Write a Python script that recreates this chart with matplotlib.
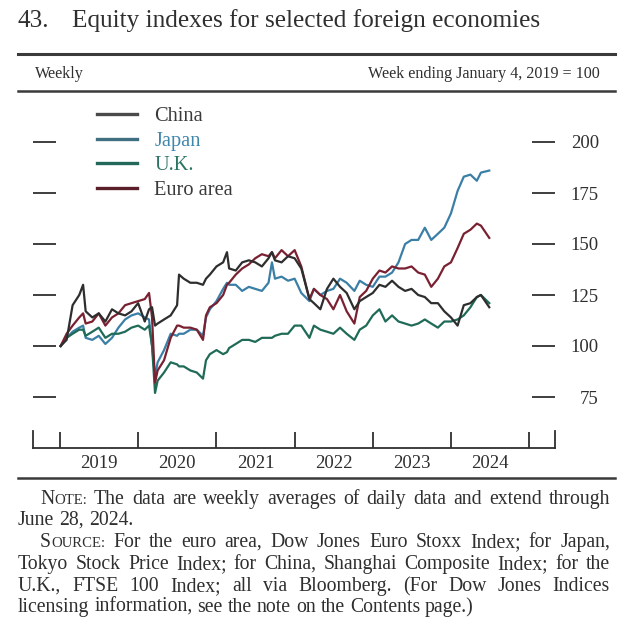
import matplotlib
matplotlib.use("Agg")
import matplotlib.pyplot as plt
from matplotlib.lines import Line2D
import pandas as pd

plt.rcParams['font.family'] = ['Liberation Serif', 'DejaVu Serif']

# ---------------- data ----------------
dates = [
    "2019-01-04", "2019-02-01", "2019-03-01", "2019-04-01", "2019-04-19", "2019-05-01",
    "2019-06-01", "2019-07-01", "2019-08-01", "2019-09-01", "2019-10-01", "2019-11-01",
    "2019-12-01", "2020-01-01", "2020-02-01", "2020-02-21", "2020-03-06", "2020-03-20",
    "2020-04-01", "2020-05-01", "2020-06-01", "2020-07-01", "2020-07-10", "2020-08-01",
    "2020-09-01", "2020-10-01", "2020-10-30", "2020-11-13", "2020-12-01", "2021-01-01",
    "2021-02-01", "2021-02-19", "2021-03-01", "2021-04-01", "2021-05-01", "2021-06-01",
    "2021-07-01", "2021-08-01", "2021-09-01", "2021-09-17", "2021-10-01", "2021-11-01",
    "2021-12-01", "2022-01-01", "2022-02-01", "2022-03-11", "2022-04-01", "2022-05-01",
    "2022-06-01", "2022-07-01", "2022-08-01", "2022-09-01", "2022-10-07", "2022-11-01",
    "2022-12-01", "2023-01-01", "2023-02-01", "2023-03-01", "2023-04-01", "2023-05-01",
    "2023-06-01", "2023-07-01", "2023-08-01", "2023-09-01", "2023-10-01", "2023-11-01",
    "2023-12-01", "2024-01-01", "2024-02-01", "2024-03-01", "2024-04-01", "2024-05-01",
    "2024-05-20", "2024-06-28",
]
china = [
    100, 103, 120, 125, 130, 117, 114, 116, 112, 118, 116, 115,
    117, 121, 112, 118, 119, 110, 111, 113, 115, 120, 135, 133,
    131, 131, 130, 133, 135, 139, 141, 146, 138, 137, 141, 142,
    141, 139, 143, 146, 142, 141, 144, 143, 138, 123, 121, 118,
    128, 133, 129, 126, 118, 122, 124, 126, 130, 129, 132, 129,
    127, 128, 125, 124, 121, 121, 117, 114, 110, 120, 121, 124,
    125, 119,
]
japan = [
    100, 104, 107, 109, 110, 104, 103, 105, 101, 104, 109, 113,
    115, 116, 114, 113, 100, 85, 92, 98, 106, 105, 106, 106,
    108, 108, 105, 114, 118, 122, 128, 131, 130, 130, 127, 129,
    128, 127, 131, 141, 133, 134, 132, 133, 126, 122, 128, 125,
    127, 128, 133, 131, 127, 132, 130, 129, 134, 134, 136, 141,
    150, 152, 152, 158, 152, 155, 158, 165, 176, 183, 184, 181,
    185, 186,
]
uk = [
    100, 104, 106, 108, 108, 105, 107, 109, 104, 106, 106, 107,
    109, 110, 108, 110, 100, 77, 83, 87, 92, 91, 90, 90,
    88, 87, 84, 93, 96, 98, 96, 97, 99, 101, 103, 103,
    102, 104, 104, 104, 105, 106, 106, 110, 110, 104, 110, 108,
    107, 106, 109, 106, 103, 108, 110, 115, 118, 112, 115, 112,
    111, 110, 111, 113, 111, 109, 112, 112, 113, 115, 119, 124,
    125, 121,
]
euro = [
    100, 106, 110, 114, 116, 111, 112, 116, 110, 114, 116, 120,
    121, 122, 123, 126, 114, 82, 88, 93, 104, 110, 110, 109,
    109, 108, 103, 115, 119, 121, 125, 130, 131, 135, 138, 140,
    143, 145, 144, 146, 143, 147, 144, 147, 139, 123, 128, 125,
    123, 118, 125, 117, 111, 124, 127, 133, 137, 136, 139, 138,
    138, 139, 136, 135, 129, 133, 139, 141, 148, 155, 157, 160,
    159, 153,
]
series_names = ["China", "Japan", "U.K.", "Euro area"]
series_values = [china, japan, uk, euro]
line_colors = ["#2e2e2e", "#3b7fa6", "#1f6b57", "#7a2131"]
legend_line_colors = ["#4a4a4a", "#3f6f80", "#23695a", "#5a1f28"]
label_colors = ["#3a3a3a", "#3f86ad", "#2b7463", "#3a3a3a"]
zorders = [5, 2, 3, 4]

y_ticks = [75, 100, 125, 150, 175, 200]
year_labels = ["2019", "2020", "2021", "2022", "2023", "2024"]

title_num = "43."
title_text = "Equity indexes for selected foreign economies"
header_left = "Weekly"
header_right = "Week ending January 4, 2019 = 100"

# ---------------- figure ----------------
W, H = 640, 627
fig = plt.figure(figsize=(W / 100, H / 100), dpi=100)
fig.patch.set_facecolor("white")


def fx(px):
    return px / W


def fy(py):
    return 1 - py / H


TXT = "#2f2f2f"

ax = fig.add_axes([fx(33), fy(448), fx(555) - fx(33), fy(91) - fy(448)])
x = pd.to_datetime(dates)
for name, vals, c, z in zip(series_names, series_values, line_colors, zorders):
    ax.plot(x, vals, color=c, lw=1.6, label=name, zorder=z, solid_joinstyle="round")

ax.set_ylim(50, 225)
ax.set_xlim(pd.Timestamp("2018-08-28"), pd.Timestamp("2025-05-01"))

ax.spines["top"].set_visible(False)
for s in ["left", "right"]:
    ax.spines[s].set_bounds(50, 58.5)
    ax.spines[s].set_linewidth(1.3)
    ax.spines[s].set_color(TXT)
ax.spines["bottom"].set_linewidth(1.3)
ax.spines["bottom"].set_color(TXT)

# x ticks: year boundaries (marks) and mid-year labels
ax.set_xticks([pd.Timestamp(f"{int(y)}-01-01") for y in year_labels] + [pd.Timestamp("2025-01-01")])
ax.xaxis.set_major_formatter(plt.NullFormatter())
ax.set_xticks([pd.Timestamp(f"{y}-07-02") for y in year_labels], minor=True)
ax.set_xticklabels(year_labels, minor=True)
ax.tick_params(axis="x", which="major", direction="in", length=11.5, width=1.3, color=TXT)
ax.tick_params(axis="x", which="minor", length=0, pad=5, labelsize=13.5, labelcolor=TXT)

# y ticks: dashes on both sides, labels on the right
ax.set_yticks(y_ticks)
ax.tick_params(axis="y", which="both", direction="in", length=16.5, width=1.3, color=TXT,
               left=True, right=True, labelleft=False, labelright=True,
               pad=31.5, labelsize=13.5, labelcolor=TXT)
for lbl in ax.get_yticklabels():
    lbl.set_horizontalalignment("right")

# legend
leg = ax.legend(loc="upper left", bbox_to_anchor=((97 - 33) / 522, 1 - (107 - 91) / 357),
                frameon=False, fontsize=14.7, handlelength=1.95, handletextpad=0.85,
                labelspacing=0.255, borderpad=0, borderaxespad=0)
for t, c in zip(leg.get_texts(), label_colors):
    t.set_color(c)
for h, c in zip(leg.get_lines(), legend_line_colors):
    h.set_linewidth(2.4)
    h.set_color(c)

# ---------------- header ----------------
fig.text(fx(18), fy(21), title_num, fontsize=18.2, color=TXT, va="center", ha="left")
fig.text(fx(72), fy(21), title_text, fontsize=18.2, color=TXT, va="center", ha="left")

for yy, lw in [(54, 2.2), (91, 1.8), (478, 1.8)]:
    fig.add_artist(Line2D([fx(18), fx(615)], [fy(yy), fy(yy)], lw=lw, color="#3a3a3a",
                          transform=fig.transFigure))

fig.text(fx(35), fy(74), header_left, fontsize=11.6, color=TXT, va="center", ha="left")
fig.text(fx(600), fy(74), header_right, fontsize=11.6, color=TXT, va="center", ha="right")

# ---------------- notes (justified) ----------------
BIG, SMALL = 14.2, 10.6
note_lines = [
    # (indent px, justify, baseline y px, words)
    (40, True, 504, [[("N", BIG), ("OTE:", SMALL)]] + [[(w, BIG)] for w in
                    "The data are weekly averages of daily data and extend through".split()]),
    (18, False, 525, [[(w, BIG)] for w in "June 28, 2024.".split()]),
    (40, True, 547, [[("S", BIG), ("OURCE:", SMALL)]] + [[(w, BIG)] for w in
                    "For the euro area, Dow Jones Euro Stoxx Index; for Japan,".split()]),
    (18, True, 569, [[(w, BIG)] for w in
                    "Tokyo Stock Price Index; for China, Shanghai Composite Index; for the".split()]),
    (18, True, 591, [[(w, BIG)] for w in
                    "U.K., FTSE 100 Index; all via Bloomberg. (For Dow Jones Indices".split()]),
    (18, False, 612, [[(w, BIG)] for w in
                    "licensing information, see the note on the Contents page.)".split()]),
]
RIGHT = 610
renderer = fig.canvas.get_renderer()
tsp = fig.text(0, 0, "a a", fontsize=BIG)
tnsp = fig.text(0, 0, "aa", fontsize=BIG)
space_w = tsp.get_window_extent(renderer).width - tnsp.get_window_extent(renderer).width
tsp.remove()
tnsp.remove()
for indent, justify, ybase, words in note_lines:
    objs = []
    widths = []
    for word in words:
        segs = []
        wsum = 0
        for txt, size in word:
            t = fig.text(0, fy(ybase), txt, fontsize=size, color=TXT, va="baseline", ha="left")
            bb = t.get_window_extent(renderer)
            segs.append((t, bb.width))
            wsum += bb.width
        objs.append(segs)
        widths.append(wsum)
    if justify and len(words) > 1:
        gap = (RIGHT - indent - sum(widths)) / (len(words) - 1)
    else:
        gap = space_w
    xpos = indent
    for segs, wsum in zip(objs, widths):
        xx = xpos
        for t, wd in segs:
            t.set_x(fx(xx))
            xx += wd
        xpos += wsum + gap

fig.savefig("out.png", dpi=100, facecolor="white")
